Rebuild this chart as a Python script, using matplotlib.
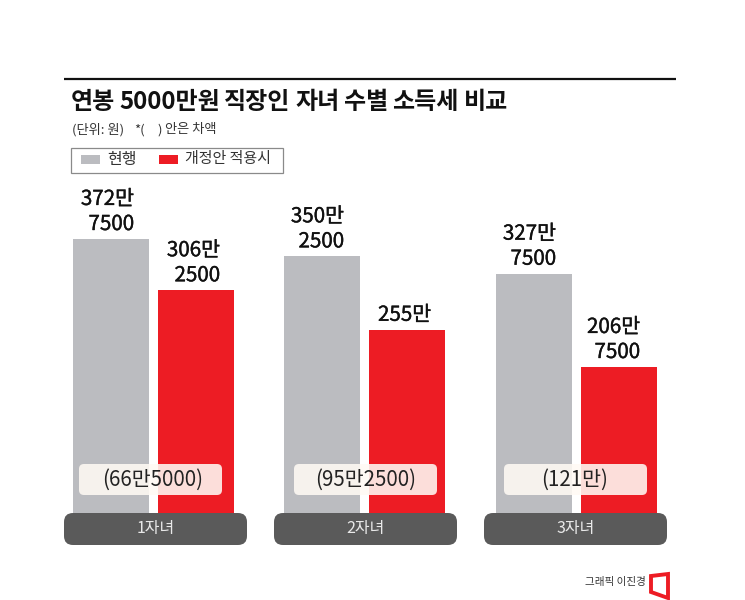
import numpy as np
import matplotlib
matplotlib.use("Agg")
import matplotlib.pyplot as plt
import matplotlib.patheffects as pe
from matplotlib.patches import FancyBboxPatch, Rectangle, Polygon

plt.rcParams["font.family"] = ["Noto Sans CJK KR", "DejaVu Sans"]

groups = ["1자녀", "2자녀", "3자녀"]
current = [372.75, 350.25, 327.75]
revised = [306.25, 255.0, 206.75]
current_labels = ["372만\n7500", "350만\n2500", "327만\n7500"]
revised_labels = ["306만\n2500", "255만", "206만\n7500"]
diff_labels = ["(66만5000)", "(95만2500)", "(121만)"]
title_words = ["연봉", "5000만원", "직장인", "자녀", "수별", "소득세", "비교"]

GRAY = "#bbbcc0"
RED = "#ed1c24"
PILL = "#5a5a5a"

fig = plt.figure(figsize=(7.45, 6), dpi=100, facecolor="white")

# bars: axes fills the figure, limits line the scale up with the picture
ax = fig.add_axes([0, 0, 1, 1])
ax.set_xlim(-153.5 / 211.25, (745 - 153.5) / 211.25)
ax.set_ylim(-95.5, 682.8)
ax.axis("off")
x = np.arange(len(groups))
w = 76 / 211.25
off = 42.5 / 211.25
ax.bar(x - off, current, w, color=GRAY)
ax.bar(x + off, revised, w, color=RED)

# everything else in pixel coordinates on top
ov = fig.add_axes([0, 0, 1, 1])
ov.set_xlim(0, 745)
ov.set_ylim(600, 0)
ov.axis("off")
ov.patch.set_alpha(0)


def rbox(x0, y0, x1, y1, r, **kw):
    ov.add_patch(FancyBboxPatch((x0 + r, y0 + r), x1 - x0 - 2 * r, y1 - y0 - 2 * r,
                                boxstyle=f"round,pad={r},rounding_size={r}", **kw))


ov.plot([64, 676], [78.5, 78.5], color="#111111", lw=1.6, solid_capstyle="butt")
# title word by word, the original has very tight word gaps
title_x = [71, 119, 224, 295, 344, 392, 464]
for tx, word in zip(title_x, title_words):
    ov.text(tx, 102, word, fontsize=17.3, fontweight="bold", va="center", ha="left", color="#111111")
ov.text(72, 130, "(단위: 원)", fontsize=9.5, va="center", color="#333333")
ov.text(134, 130, "*(", fontsize=9.5, va="center", color="#333333")
ov.text(157, 130, ")", fontsize=9.5, va="center", color="#333333")
ov.text(165, 130, "안은 차액", fontsize=9.5, va="center", color="#333333")

# legend
ov.add_patch(Rectangle((70.5, 147.5), 212, 25, fc="white", ec="#8a8a8a", lw=0.9))
ov.add_patch(Rectangle((81, 155), 19, 9, fc=GRAY, ec="none"))
ov.add_patch(Rectangle((159, 155), 19, 9, fc=RED, ec="none"))
ov.text(107, 159.5, "현행", fontsize=11.5, va="center", color="#333333")
ov.text(185, 159.5, "개정안 적용시", fontsize=10.8, va="center", color="#333333")

# value labels, placed from the bar tops; thin stroke stands in for a medium weight
heavier = [pe.withStroke(linewidth=0.25, foreground="#111111")]
lab_x = [[134, 220], [344, 431], [556, 640]]
to_px = lambda v: 526.4 - v * 0.771
for i in range(len(groups)):
    for j, (vals, labs) in enumerate(((current, current_labels), (revised, revised_labels))):
        ov.text(lab_x[i][j], to_px(vals[i]) - 4, labs[i], fontsize=14.8,
                ha="right", va="bottom", multialignment="right", linespacing=1.18, color="#111111",
                path_effects=heavier)

# difference boxes and category pills
box_c = [150.5, 365.5, 575.5]
text_c = [153, 366, 575]
pill_c = [155.5, 365.5, 575.5]
for bc, tc, pc, d, g in zip(box_c, text_c, pill_c, diff_labels, groups):
    rbox(bc - 71.5, 464, bc + 71.5, 495, 5, fc="#fffaf4", ec="none", alpha=0.88)
    ov.text(tc, 479.5, d, fontsize=14.8, ha="center", va="center", color="#222222")
    rbox(pc - 91.5, 513, pc + 91.5, 545, 9, fc=PILL, ec="none")
    ov.text(pc, 528, g, fontsize=11.5, ha="center", va="center", color="#e8e8e8")

# credit and logo
ov.text(585, 582, "그래픽 이진경", fontsize=7.6, va="center", color="#333333")
ov.add_patch(Polygon([(651, 576), (668, 574), (668, 598), (651, 592)], closed=True,
                     fc="white", ec=RED, lw=2.8))

fig.savefig("out.png", dpi=100)
